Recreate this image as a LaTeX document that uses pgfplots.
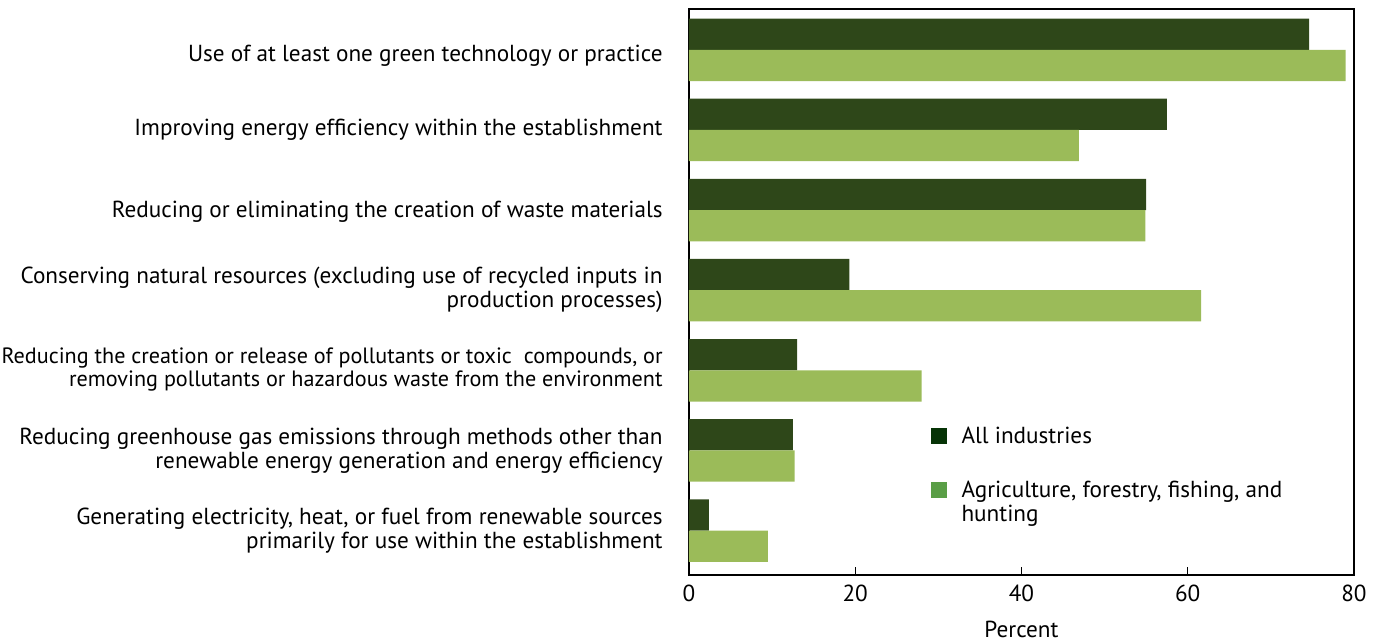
\documentclass[border=0pt]{standalone}
\usepackage{pgfplots}
\pgfplotsset{compat=1.18}
\usepackage{fontspec}
\setmainfont{PT Sans}
\definecolor{darkbar}{HTML}{2E4719}
\definecolor{lightbar}{HTML}{9BBB59}
\definecolor{darkleg}{HTML}{063306}
\definecolor{lightleg}{HTML}{5A9E46}
\begin{document}
\fontsize{11.6}{12}\selectfont
\begin{tikzpicture}
\begin{axis}[
  scale only axis, width=332.5pt, height=283pt,
  xmin=0, xmax=80, ymin=-0.555, ymax=6.51,
  xtick={0,20,40,60,80},
  ytick={0,1,2,3,4,5,6},
  yticklabels={
    {Generating electricity, heat, or fuel from renewable sources\\primarily for use within the establishment},
    {Reducing greenhouse gas emissions through methods other than\\renewable energy generation and energy efficiency},
    {\scalebox{0.955}{\begin{tabular}{@{}r@{}}Reducing the creation or release of pollutants or toxic\ \ compounds, or\\removing pollutants or hazardous waste from the environment\end{tabular}}},
    {Conserving natural resources (excluding use of recycled inputs in\\production processes)},
    {\raisebox{-1pt}[\height][\depth]{Reducing or eliminating the creation of waste materials}},
    {Improving energy efficiency within the establishment},
    {\raisebox{-3pt}[\height][\depth]{Use of at least one green technology or practice}}},
  yticklabel style={align=right, inner sep=0pt, xshift=-9pt},
  ytick style={draw=none},
  xtick pos=bottom, tick align=inside, major tick length=4pt,
  xtick style={line width=0.6pt, black},
  xticklabel style={yshift=-1pt},
  axis line style={line width=0.7pt},
  /pgf/number format/assume math mode=true,
  xlabel={Percent},
  xlabel style={yshift=-1.5pt},
  xbar, bar width=0.39,
  legend style={at={(rel axis cs:0.3635,0.262)}, anchor=north west,
    draw=none, fill=none, inner sep=0pt, outer sep=0pt,
    row sep=17pt, column sep=7.5pt,
    cells={anchor=base west}, nodes={inner sep=0pt}},
]
\addplot[draw=none, fill=darkbar, bar shift=0.195, forget plot] coordinates {
  (2.4,0) (12.5,1) (13.0,2) (19.3,3) (55.0,4) (57.5,5) (74.6,6)};
\addplot[draw=none, fill=lightbar, bar shift=-0.195, forget plot] coordinates {
  (9.5,0) (12.7,1) (28.0,2) (61.6,3) (54.9,4) (46.9,5) (79.0,6)};
\addlegendimage{legend image code/.code={\fill[darkleg] (0pt,0pt) rectangle (7.5pt,7.5pt);}}
\addlegendentry{All industries}
\addlegendimage{legend image code/.code={\fill[lightleg] (0pt,0pt) rectangle (7.5pt,7.5pt);}}
\addlegendentry{\begin{tabular}[t]{@{}l@{}}Agriculture, forestry, fishing, and\\hunting\end{tabular}}
\end{axis}
\pgfresetboundingbox
\useasboundingbox ([shift={(-344.5pt,-33pt)}]current axis.south west) rectangle ([shift={(12.5pt,4.5pt)}]current axis.north east);
\end{tikzpicture}
\end{document}
